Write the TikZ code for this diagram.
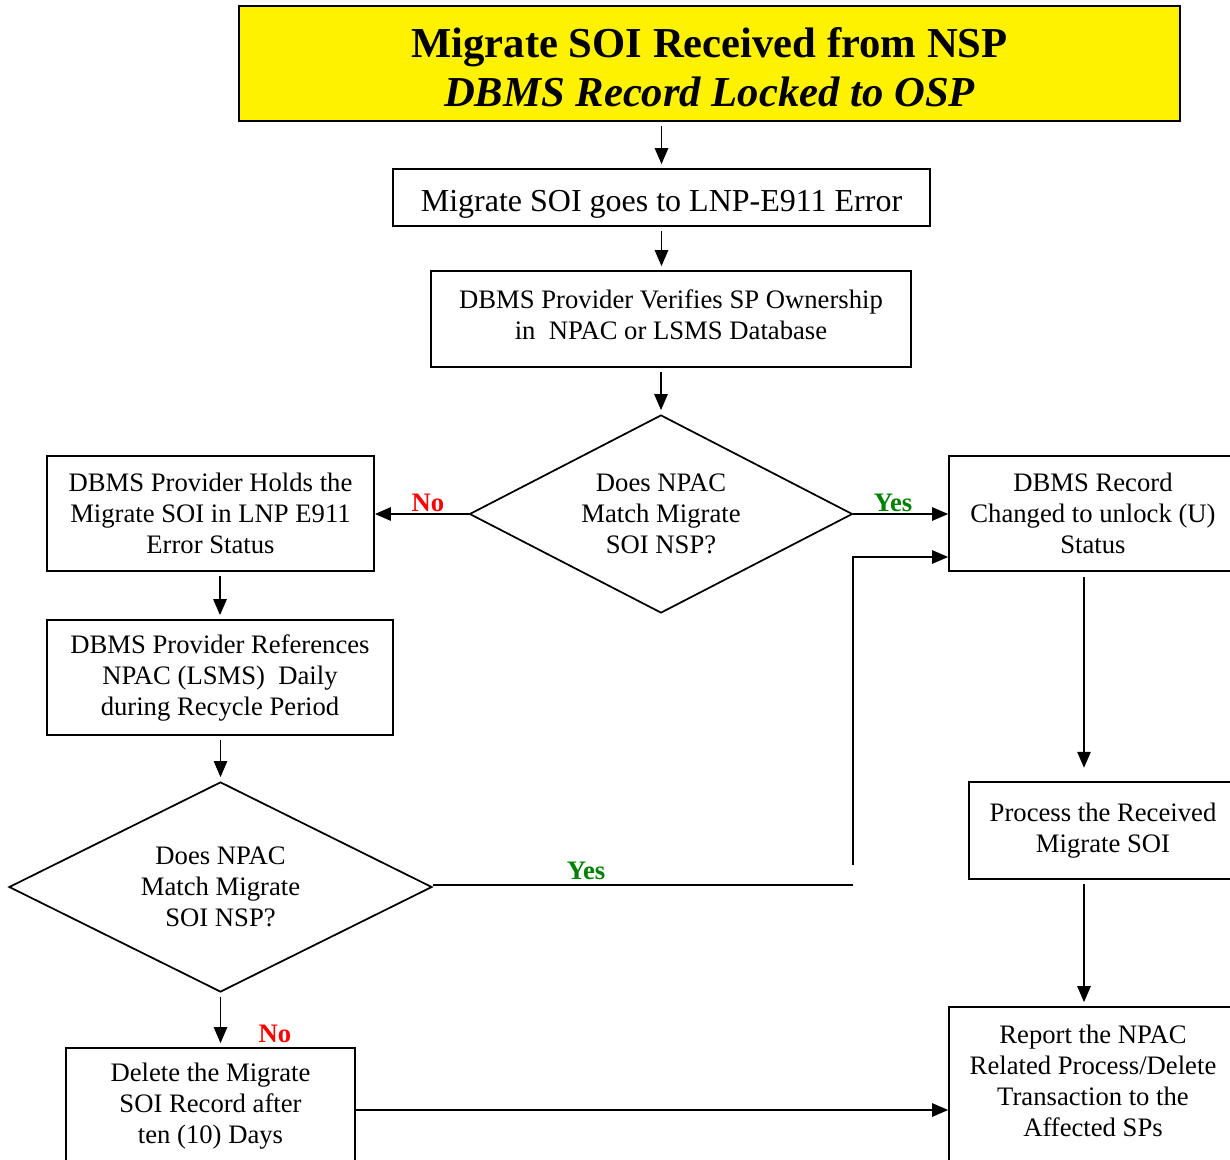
\documentclass[tikz,border=0pt]{standalone}
\usepackage{fontspec}
\setmainfont{Liberation Serif}
\usetikzlibrary{arrows.meta,shapes.geometric,calc}
\definecolor{noRed}{RGB}{255,0,0}
\definecolor{yesGreen}{RGB}{0,128,0}
\begin{document}
\begin{tikzpicture}[x=0.75pt,y=-0.75pt,
  line width=1.3pt,
  box/.style={draw,rectangle,inner sep=0pt,align=center,
    font=\fontsize{20}{23.25}\selectfont},
  decision/.style={draw,diamond,inner sep=0pt,align=center,
    font=\fontsize{20}{23.25}\selectfont},
  flow/.style={-{Triangle[length=12pt,width=10pt]}},
  gap/.style={shorten <=3pt,shorten >=3pt},
  nolabel/.style={text=noRed,font=\fontsize{20}{24}\selectfont\bfseries},
  yeslabel/.style={text=yesGreen,font=\fontsize{20}{24}\selectfont\bfseries}]

\clip (0,0) rectangle (1230,1159);

% header
\node[box,fill=yellow,minimum width=705.75pt,minimum height=86.25pt,
  text height=64.8pt,text depth=0pt,
  font=\fontsize{32}{36.75}\selectfont\bfseries] (title) at (709.5,63.5)
  {Migrate SOI Received from NSP\\\itshape DBMS Record Locked to OSP};

% main column
\node[box,minimum width=402.75pt,minimum height=42.75pt,
  text height=20.5pt,text depth=0pt,
  font=\fontsize{24}{28}\selectfont] (b2) at (661.5,197.5)
  {Migrate SOI goes to LNP-E911 Error};
\node[box,minimum width=360pt,minimum height=72pt,text depth=6pt] (b3) at (671,319)
  {DBMS Provider Verifies SP Ownership\\in\ \ NPAC or LSMS Database};
\node[decision,shape aspect=1.93,minimum width=287.25pt,minimum height=148.5pt]
  (d1) at (661,514) {Does NPAC\\Match Migrate\\SOI NSP?};

% left column
\node[box,minimum width=245.25pt,minimum height=86.25pt] (l1) at (210.5,513.5)
  {DBMS Provider Holds the\\Migrate SOI in LNP E911\\Error Status};
\node[box,minimum width=259.5pt,minimum height=86.25pt] (l2) at (220,677.5)
  {DBMS Provider References\\NPAC (LSMS)\ \ Daily\\during Recycle Period};
\node[decision,shape aspect=2.01,minimum width=317.25pt,minimum height=157.5pt]
  (d2) at (220.5,887) {Does NPAC\\Match Migrate\\SOI NSP?};
\node[box,minimum width=216.75pt,minimum height=87pt] (l3) at (210.5,1106)
  {Delete the Migrate\\SOI Record after\\ten (10) Days};

% right column
\node[box,minimum width=216pt,minimum height=86.25pt] (r1) at (1093,513.5)
  {DBMS Record\\Changed to unlock (U)\\Status};
\node[box,minimum width=201pt,minimum height=72.75pt] (r2) at (1103,830.5)
  {Process the Received\\Migrate SOI};
\node[box,minimum width=216pt,minimum height=117pt,text depth=6pt] (r3) at (1093,1085)
  {Report the NPAC\\Related Process/Delete\\Transaction to the\\Affected SPs};

% helper points
\coordinate (rx) at (1084,0);
\coordinate (yb1) at (853,865);
\coordinate (yb2) at (853,557);
\coordinate (yb3) at (853,885);

% connectors
\draw[flow,gap] (title.south -| b2.north) -- (b2.north);
\draw[flow,gap] (b2.south) -- (b2.south |- b3.north);
\draw[flow,gap] (b3.south -| d1.north) -- (d1.north);
\draw[flow] (d1.west) -- (d1.west -| l1.east);
\draw[flow] (d1.east) -- (d1.east -| r1.west);
\draw[flow,gap] (l1.south -| l2.north) -- (l2.north);
\draw[flow,gap] (l2.south -| d2.north) -- (d2.north);
\draw[flow,gap] (d2.south) -- (d2.south |- l3.north);
\draw (d2.east |- yb3) -- (yb3);
\draw[flow] (yb1) -- (yb2) -- (yb2 -| r1.west);
\draw[flow,shorten <=4pt,shorten >=10pt] (r1.south -| rx) -- (r2.north -| rx);
\draw[flow,gap] (r2.south -| rx) -- (r3.north -| rx);
\draw[flow] ($(l3.east)+(0,4)$) -- ($(l3.east -| r3.west)+(0,4)$);

% branch labels
\node[nolabel] (n1) at (428,503) {No};
\node[yeslabel] (y1) at (893,503) {Yes};
\node[yeslabel] (y2) at (586,871) {Yes};
\node[nolabel] (n2) at (275,1034) {No};
\end{tikzpicture}
\end{document}
